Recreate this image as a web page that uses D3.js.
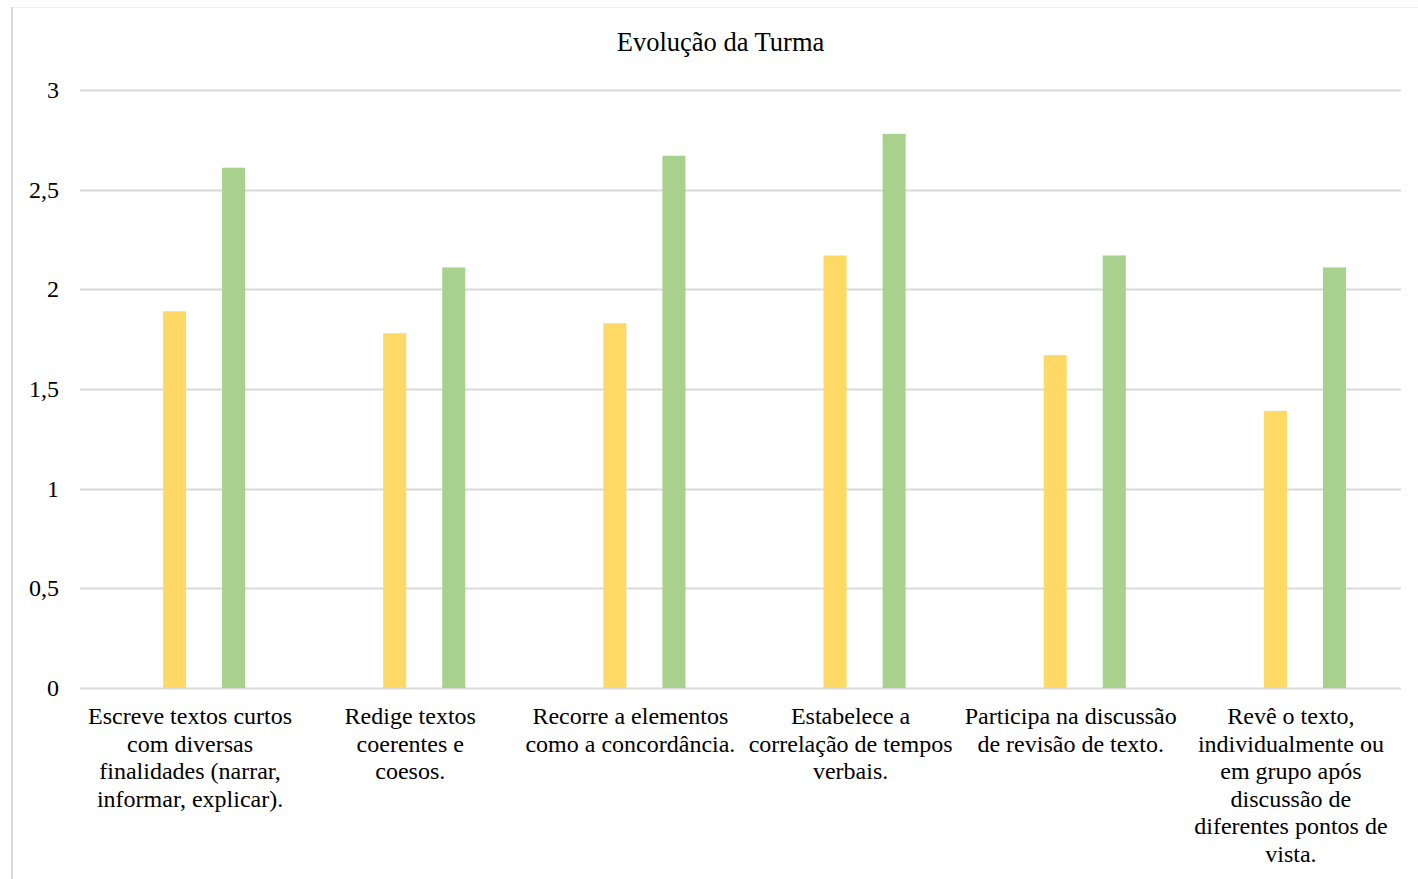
<!DOCTYPE html>
<html>
<head>
<meta charset="utf-8">
<script src="https://cdn.jsdelivr.net/npm/d3@7"></script>
<style>
  html, body { margin: 0; padding: 0; background: #fff; }
  svg text { font-family: "Liberation Serif", "Times New Roman", serif; fill: #000; }
</style>
</head>
<body>
<svg id="chart" width="1418" height="879"></svg>
<script>
// Chart content
const title = "Evolução da Turma";
const categories = [
  ["Escreve textos curtos", "com diversas", "finalidades (narrar,", "informar, explicar)."],
  ["Redige textos", "coerentes e", "coesos."],
  ["Recorre a elementos", "como a concordância."],
  ["Estabelece a", "correlação de tempos", "verbais."],
  ["Participa na discussão", "de revisão de texto."],
  ["Revê o texto,", "individualmente ou", "em grupo após", "discussão de", "diferentes pontos de", "vista."]
];
const seriesNames = ["Inicial", "Final"];
const inicial = [1.89, 1.78, 1.83, 2.17, 1.67, 1.39];
const final = [2.61, 2.11, 2.67, 2.78, 2.17, 2.11];
const yTicks = [0, 0.5, 1, 1.5, 2, 2.5, 3];
const colors = ["#FFD966", "#A9D18E"];

const svg = d3.select("#chart");
const W = 1418, H = 879;
const plot = { left: 80, right: 1401, top: 90, bottom: 688 };

// Chart frame: faint top edge, grey left edge
svg.append("line")
  .attr("x1", 12).attr("x2", W).attr("y1", 7.5).attr("y2", 7.5)
  .attr("stroke", "#f0f0f0").attr("stroke-width", 1);
svg.append("line")
  .attr("x1", 12).attr("x2", 12).attr("y1", 7).attr("y2", H)
  .attr("stroke", "#d9d9d9").attr("stroke-width", 2);

const x0 = d3.scaleBand()
  .domain(d3.range(categories.length))
  .range([plot.left, plot.right])
  .paddingInner(0).paddingOuter(0);

// bars sit inside each category slot
const bw = x0.bandwidth();
const x1 = d3.scaleBand()
  .domain(seriesNames)
  .range([bw * 0.377, bw * 0.75])
  .paddingInner(0.61).paddingOuter(0);

const y = d3.scaleLinear().domain([0, 3]).range([plot.bottom, plot.top]);

// gridlines
svg.append("g")
  .selectAll("line")
  .data(yTicks)
  .join("line")
  .attr("x1", plot.left).attr("x2", plot.right)
  .attr("y1", d => Math.round(y(d)) + 0.5).attr("y2", d => Math.round(y(d)) + 0.5)
  .attr("stroke", "#d9d9d9").attr("stroke-width", 2);

// y-axis labels
const fmt = d => String(d).replace(".", ",");
svg.append("g")
  .selectAll("text")
  .data(yTicks)
  .join("text")
  .attr("x", 59)
  .attr("y", d => y(d))
  .attr("dy", "0.33em")
  .attr("text-anchor", "end")
  .attr("font-size", 24)
  .text(fmt);

// bars
const seriesData = [inicial, final];
const groups = svg.append("g")
  .selectAll("g")
  .data(seriesNames)
  .join("g")
  .attr("fill", (d, i) => colors[i]);

groups.selectAll("rect")
  .data((s, i) => seriesData[i].map((v, j) => ({ s, v, j })))
  .join("rect")
  .attr("x", d => x0(d.j) + x1(d.s))
  .attr("width", x1.bandwidth())
  .attr("y", d => y(d.v))
  .attr("height", d => y(0) - y(d.v));

// category labels
const cat = svg.append("g")
  .selectAll("text")
  .data(categories)
  .join("text")
  .attr("text-anchor", "middle")
  .attr("font-size", 24)
  .attr("x", (d, i) => x0(i) + bw / 2)
  .attr("y", 724);

cat.selectAll("tspan")
  .data((d, i) => d.map(t => ({ t, i })))
  .join("tspan")
  .attr("x", d => x0(d.i) + bw / 2)
  .attr("dy", (d, k) => k === 0 ? 0 : 27.5)
  .text(d => d.t);

// title
svg.append("text")
  .attr("x", 720.5)
  .attr("y", 51)
  .attr("text-anchor", "middle")
  .attr("font-size", 26.5)
  .text(title);
</script>
</body>
</html>
